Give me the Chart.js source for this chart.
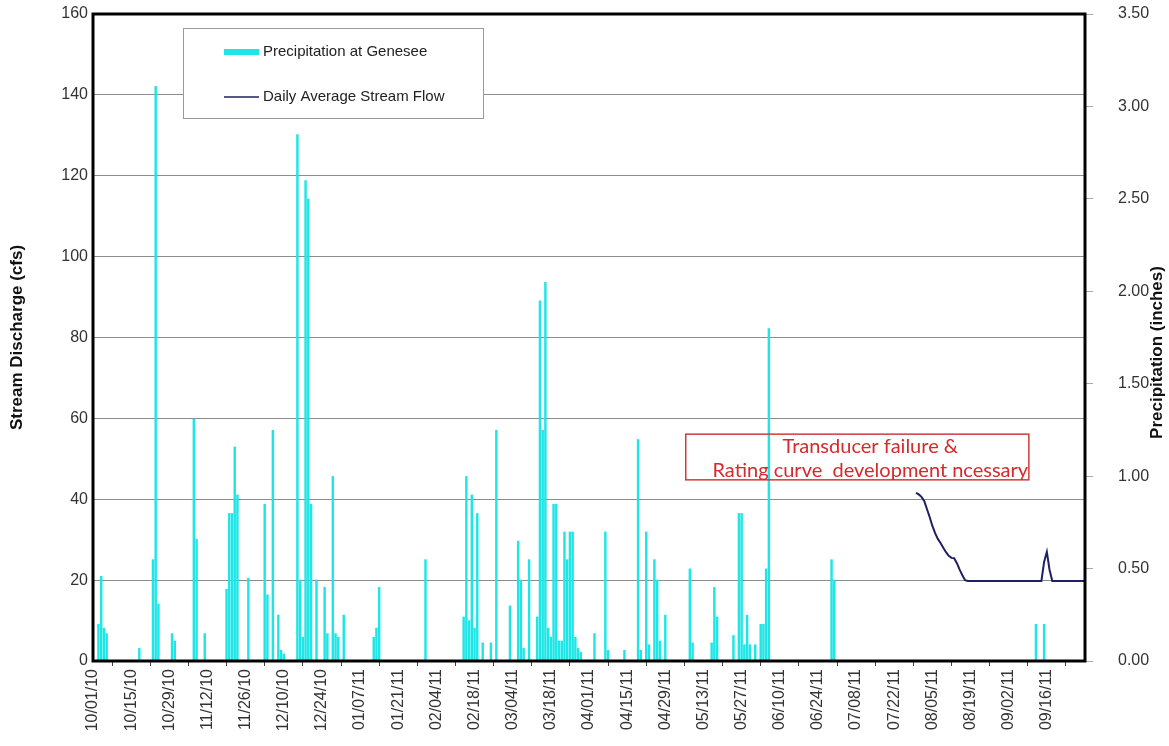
<!DOCTYPE html>
<html><head><meta charset="utf-8">
<script src="https://cdn.jsdelivr.net/npm/chart.js@4"></script>
<style>html,body{margin:0;padding:0;background:#fff;}</style>
</head><body>
<canvas id="c" width="1169" height="746"></canvas>
<script>
// ---------- data ----------
const startDate = '10/01/10';
const endDate = '09/30/11';
const tickLabels = ['10/01/10','10/15/10','10/29/10','11/12/10','11/26/10','12/10/10','12/24/10','01/07/11','01/21/11','02/04/11','02/18/11','03/04/11','03/18/11','04/01/11','04/15/11','04/29/11','05/13/11','05/27/11','06/10/11','06/24/11','07/08/11','07/22/11','08/05/11','08/19/11','09/02/11','09/16/11'];
const precipDates = ['10/03/10','10/04/10','10/05/10','10/06/10','10/18/10','10/23/10','10/24/10','10/25/10','10/30/10','10/31/10','11/07/10','11/08/10','11/11/10','11/19/10','11/20/10','11/21/10','11/22/10','11/23/10','11/27/10','12/03/10','12/04/10','12/06/10','12/08/10','12/09/10','12/10/10','12/15/10','12/16/10','12/17/10','12/18/10','12/19/10','12/20/10','12/22/10','12/25/10','12/26/10','12/28/10','12/29/10','12/30/10','01/01/11','01/12/11','01/13/11','01/14/11','01/31/11','02/14/11','02/15/11','02/16/11','02/17/11','02/18/11','02/19/11','02/21/11','02/24/11','02/26/11','03/03/11','03/06/11','03/07/11','03/08/11','03/10/11','03/13/11','03/14/11','03/15/11','03/16/11','03/17/11','03/18/11','03/19/11','03/20/11','03/21/11','03/22/11','03/23/11','03/24/11','03/25/11','03/26/11','03/27/11','03/28/11','03/29/11','04/03/11','04/07/11','04/08/11','04/14/11','04/19/11','04/20/11','04/22/11','04/23/11','04/25/11','04/26/11','04/27/11','04/29/11','05/08/11','05/09/11','05/16/11','05/17/11','05/18/11','05/24/11','05/26/11','05/27/11','05/28/11','05/29/11','05/30/11','06/01/11','06/03/11','06/04/11','06/05/11','06/06/11','06/29/11','06/30/11','09/12/11','09/15/11'];
const precipInches = [0.20,0.46,0.18,0.15,0.07,0.55,3.11,0.31,0.15,0.11,1.31,0.66,0.15,0.39,0.80,0.80,1.16,0.90,0.45,0.85,0.36,1.25,0.25,0.06,0.04,2.85,0.44,0.13,2.60,2.50,0.85,0.44,0.40,0.15,1.00,0.15,0.13,0.25,0.13,0.18,0.40,0.55,0.24,1.00,0.22,0.90,0.18,0.80,0.10,0.10,1.25,0.30,0.65,0.44,0.07,0.55,0.24,1.95,1.25,2.05,0.18,0.13,0.85,0.85,0.11,0.11,0.70,0.55,0.70,0.70,0.13,0.07,0.05,0.15,0.70,0.06,0.06,1.20,0.06,0.70,0.09,0.55,0.44,0.11,0.25,0.50,0.10,0.10,0.40,0.24,0.14,0.80,0.80,0.09,0.25,0.09,0.09,0.20,0.20,0.50,1.80,0.55,0.44,0.20,0.20];
const flowStartDate = '07/30/11';
const flowCfs = [41.6,41.2,40.6,39.6,37.6,35.6,33.4,31.6,30.2,29.2,28.0,26.9,26.0,25.5,25.4,24.2,22.6,21.2,20.0,
  19.8,19.8,19.8,19.8,19.8,19.8,19.8,19.8,19.8,19.8,19.8,19.8,19.8,19.8,19.8,19.8,19.8,19.8,19.8,19.8,19.8,19.8,19.8,19.8,19.8,19.8,19.8,19.8,
  24.5,27.0,22.5,
  19.8,19.8,19.8,19.8,19.8,19.8,19.8,19.8,19.8,19.8,19.8,19.8,19.8];
const legendLabels = ['Precipitation at Genesee','Daily Average Stream Flow'];
const noteLines = ['Transducer failure &','Rating curve  development ncessary'];
const leftAxisTitle = 'Stream Discharge (cfs)';
const rightAxisTitle = 'Precipitation (inches)';

// ---------- build daily table ----------
function parseD(s){const p=s.split('/').map(Number);return Date.UTC(2000+p[2],p[0]-1,p[1]);}
function fmt(t){const d=new Date(t);const z=n=>String(n).padStart(2,'0');return z(d.getUTCMonth()+1)+'/'+z(d.getUTCDate())+'/'+z(d.getUTCFullYear()%100);}
const days=[];
for(let t=parseD(startDate);t<=parseD(endDate);t+=86400000) days.push(fmt(t));
const precipSeries = days.map(d=>{const i=precipDates.indexOf(d);return i>=0?precipInches[i]:0;});
const flowStartIdx = days.indexOf(flowStartDate);
const flowSeries = days.map((d,i)=>(i>=flowStartIdx && i-flowStartIdx<flowCfs.length)?flowCfs[i-flowStartIdx]:null);

const FONT = "'Liberation Sans', Arial, sans-serif";
Chart.defaults.font.family = FONT;

function zeroPad(s){s.paddingTop=0;s.paddingBottom=0;}

const decor = {
  id:'decor',
  afterDatasetsDraw(chart){
    const {ctx,chartArea:a}=chart;
    ctx.save();
    ctx.strokeStyle='#000';ctx.lineWidth=3;
    ctx.strokeRect(a.left,a.top,a.right-a.left,a.bottom-a.top);
    ctx.restore();
  },
  afterDraw(chart){
    const {ctx,chartArea:a,scales}=chart;
    const ds=chart.data.datasets;
    ctx.save();
    // legend box
    const lx=a.left+90, ly=a.top+14, lw=300, lh=90;
    ctx.fillStyle='#fff';ctx.fillRect(lx,ly,lw,lh);
    ctx.strokeStyle='#9a9a9a';ctx.lineWidth=1;ctx.strokeRect(lx+0.5,ly+0.5,lw,lh);
    ctx.font='15px '+FONT;ctx.textBaseline='middle';ctx.textAlign='left';
    ctx.fillStyle=ds[0].backgroundColor;ctx.fillRect(lx+41,ly+21,35,6);
    ctx.fillStyle='#222';ctx.fillText(ds[0].label,lx+80,ly+24);
    ctx.strokeStyle=ds[1].borderColor;ctx.lineWidth=1.5;
    ctx.beginPath();ctx.moveTo(lx+41,ly+69);ctx.lineTo(lx+76,ly+69);ctx.stroke();
    ctx.fillText(ds[1].label,lx+80,ly+69);
    // note box
    const xs=scales.x, ys=scales.y;
    const bx1=xs.getPixelForValue(217.5), bx2=xs.getPixelForValue(343.4);
    const by1=ys.getPixelForValue(56.1), by2=ys.getPixelForValue(44.8);
    ctx.strokeStyle='#d23a3a';ctx.lineWidth=1.5;
    ctx.strokeRect(bx1,by1,bx2-bx1,by2-by1);
    ctx.fillStyle='#d42a2a';ctx.font="20px Lato, 'Open Sans', sans-serif";ctx.textAlign='center';
    const cx=(bx1+bx2)/2+13;
    ctx.fillText(noteLines[0],cx,by1+12);
    ctx.fillText(noteLines[1],cx,by1+36);
    // right axis title
    ctx.fillStyle='#111';ctx.font='bold 17px '+FONT;
    ctx.translate(a.right+72,(a.top+a.bottom)/2+15);ctx.rotate(-Math.PI/2);
    ctx.textAlign='center';ctx.textBaseline='middle';
    ctx.fillText(rightAxisTitle,0,0);
    ctx.restore();
  }
};

new Chart(document.getElementById('c'),{
  data:{labels:days,datasets:[
    {type:'bar',label:legendLabels[0],data:precipSeries,yAxisID:'y1',backgroundColor:'#1ee6e6',borderWidth:0,barPercentage:0.9,categoryPercentage:1,order:2},
    {type:'line',label:legendLabels[1],data:flowSeries,yAxisID:'y',borderColor:'#1f1f66',borderWidth:2,pointRadius:0,tension:0,spanGaps:false,order:1}
  ]},
  options:{
    responsive:false,animation:false,
    layout:{padding:{top:14,left:0,right:0,bottom:0}},
    plugins:{legend:{display:false},tooltip:{enabled:false}},
    scales:{
      x:{type:'category',offset:false,
        grid:{display:true,drawOnChartArea:false,drawTicks:true,tickLength:5,color:'#444'},
        border:{display:false},
        ticks:{autoSkip:false,minRotation:90,maxRotation:90,padding:3,color:'#333',font:{size:16},
          callback:function(v){const l=this.getLabelForValue(v);return tickLabels.includes(l)?l:null;}},
        afterFit(s){s.height=85;zeroPad(s);}},
      y:{position:'left',min:0,max:160,
        ticks:{stepSize:20,padding:5,color:'#333',font:{size:16}},
        grid:{color:'#8c8c8c',drawTicks:false},border:{display:false},
        title:{display:true,text:leftAxisTitle,color:'#111',font:{size:17,weight:'bold'},padding:{top:7,bottom:0}},
        afterFit(s){s.width=93;zeroPad(s);}},
      y1:{position:'right',min:0,max:3.5,
        ticks:{stepSize:0.5,padding:25,color:'#333',font:{size:16},callback:v=>Number(v).toFixed(2)},
        grid:{drawOnChartArea:false,tickLength:8,color:'#aaa'},border:{display:false},
        afterFit(s){s.width=84;zeroPad(s);}}
    }
  },
  plugins:[decor]
});
</script>
</body></html>
